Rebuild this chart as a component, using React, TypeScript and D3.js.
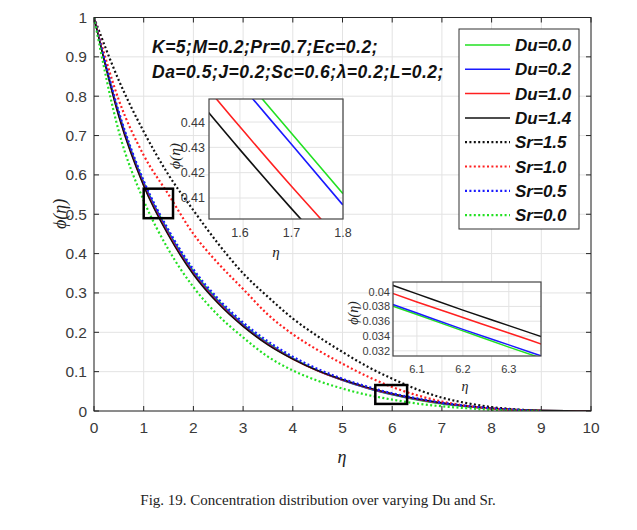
import React from "react";
import * as d3 from "d3";

// ---- data ----
const etaDotted = [0, 0.5, 1, 1.5, 2, 2.5, 3, 3.5, 4, 4.5, 5, 5.5, 6, 6.5, 7, 7.5, 8, 8.5, 9];
const etaSolid = [0, 0.5, 1, 1.5, 2, 2.5, 3, 3.5, 4, 4.5, 5, 5.5, 6, 6.5, 7, 7.5, 8, 8.5, 9, 9.5, 10];

const du00 = [1, 0.757, 0.582, 0.456, 0.356, 0.281, 0.221, 0.173, 0.134, 0.103, 0.078, 0.058, 0.041, 0.028, 0.018, 0.011, 0.006, 0.003, 0.001, 0.0005, 0];
const du02 = [1, 0.755, 0.579, 0.453, 0.353, 0.278, 0.219, 0.171, 0.133, 0.102, 0.078, 0.058, 0.042, 0.029, 0.019, 0.012, 0.006, 0.003, 0.001, 0.0005, 0];
const du10 = [1, 0.75, 0.574, 0.448, 0.349, 0.275, 0.216, 0.169, 0.132, 0.102, 0.079, 0.059, 0.043, 0.03, 0.02, 0.012, 0.007, 0.003, 0.0015, 0.0006, 0];
const du14 = [1, 0.748, 0.572, 0.446, 0.347, 0.273, 0.215, 0.168, 0.132, 0.103, 0.08, 0.06, 0.044, 0.031, 0.021, 0.013, 0.007, 0.0035, 0.0015, 0.0006, 0];

const sr15 = [1, 0.84, 0.71, 0.6, 0.51, 0.425, 0.35, 0.29, 0.235, 0.19, 0.15, 0.113, 0.082, 0.055, 0.034, 0.02, 0.01, 0.004, 0];
const sr10 = [1, 0.79, 0.65, 0.55, 0.45, 0.375, 0.31, 0.245, 0.195, 0.155, 0.12, 0.088, 0.061, 0.04, 0.024, 0.013, 0.006, 0.002, 0];
const sr05 = [1, 0.76, 0.585, 0.46, 0.36, 0.285, 0.225, 0.177, 0.138, 0.107, 0.082, 0.062, 0.045, 0.032, 0.021, 0.013, 0.007, 0.003, 0];
const sr00 = [1, 0.71, 0.535, 0.41, 0.315, 0.243, 0.187, 0.138, 0.103, 0.077, 0.057, 0.041, 0.029, 0.019, 0.012, 0.007, 0.003, 0.001, 0];

// inset 1 (eta 1.54 - 1.8)
const in1Eta = [1.5, 1.6, 1.7, 1.8];
const in1Du00 = [0.4837, 0.4595, 0.4356, 0.4117];
const in1Du02 = [0.4794, 0.4551, 0.4312, 0.4072];
const in1Du10 = [0.4624, 0.4381, 0.4146, 0.3921];
const in1Du14 = [0.4533, 0.4291, 0.4058, 0.3835];

// inset 2 (eta 6.05 - 6.37)
const in2Eta = [6.0, 6.1, 6.2, 6.3, 6.4];
const in2Du00 = [0.0391, 0.0369, 0.0347, 0.0325, 0.0304];
const in2Du02 = [0.0393, 0.0371, 0.0349, 0.0328, 0.0307];
const in2Du10 = [0.0408, 0.0386, 0.0365, 0.0344, 0.0323];
const in2Du14 = [0.0419, 0.0397, 0.0375, 0.0354, 0.0333];

const xTicks = [0, 1, 2, 3, 4, 5, 6, 7, 8, 9, 10];
const yTicks = [0, 0.1, 0.2, 0.3, 0.4, 0.5, 0.6, 0.7, 0.8, 0.9, 1];
const in1XTicks = [1.6, 1.7, 1.8];
const in1YTicks = [0.41, 0.42, 0.43, 0.44];
const in2XTicks = [6.1, 6.2, 6.3];
const in2YTicks = [0.032, 0.034, 0.036, 0.038, 0.04];

const legendLabels = ["Du=0.0", "Du=0.2", "Du=1.0", "Du=1.4", "Sr=1.5", "Sr=1.0", "Sr=0.5", "Sr=0.0"];
const paramLines = ["K=5;M=0.2;Pr=0.7;Ec=0.2;", "Da=0.5;J=0.2;Sc=0.6;\u03bb=0.2;L=0.2;"];
const caption = "Fig. 19. Concentration distribution over varying Du and Sr.";

const GREEN = "#22e022";
const BLUE = "#1a1aff";
const RED = "#ff2020";
const BLACK = "#111111";
const colorsDu = [GREEN, BLUE, RED, BLACK];
const colorsSr = [BLACK, RED, BLUE, GREEN];

const SANS = "'Liberation Sans', Arial, Helvetica, sans-serif";
const SERIF = "'Liberation Serif', 'Times New Roman', serif";

export default function App() {
  const x = d3.scaleLinear().domain([0, 10]).range([94, 591]);
  const y = d3.scaleLinear().domain([0, 1]).range([411, 17.5]);

  const mk = (xs: number[], ys: number[], sx: any, sy: any) =>
    d3.line<number>().x((_, i) => sx(xs[i])).y((d) => sy(d)).curve(d3.curveMonotoneX)(ys) || "";

  const solidSets = [du00, du02, du10, du14];
  const dotSets = [sr15, sr10, sr05, sr00];

  // inset scales
  const i1x = d3.scaleLinear().domain([1.54, 1.8]).range([209, 343]);
  const i1y = d3.scaleLinear().domain([0.4017, 0.4491]).range([219, 99]);
  const i2x = d3.scaleLinear().domain([6.048, 6.37]).range([393, 541]);
  const i2y = d3.scaleLinear().domain([0.0313, 0.0413]).range([356, 282]);

  const tickColor = "#262626";
  const labelColor = "#3a3a3a";
  const gridColor = "#e3e3e3";

  const legendX = 459, legendY = 29, legendW = 120, legendH = 200;
  const rowY = (i: number) => 45 + i * 24.3;

  return (
    <svg width={637} height={530} style={{ position: "absolute", left: 0, top: 0, background: "#fff" }}>
      <defs>
        <clipPath id="mainClip"><rect x={94} y={17.5} width={497} height={393.5} /></clipPath>
        <clipPath id="in1Clip"><rect x={209} y={99} width={134} height={120} /></clipPath>
        <clipPath id="in2Clip"><rect x={393} y={282} width={148} height={74} /></clipPath>
      </defs>
      <rect x={0} y={0} width={637} height={530} fill="#fff" />

      {/* grid */}
      {xTicks.map((t) => (
        <line key={"gx" + t} x1={x(t)} x2={x(t)} y1={17.5} y2={411} stroke={gridColor} strokeWidth={1} />
      ))}
      {yTicks.map((t) => (
        <line key={"gy" + t} x1={94} x2={591} y1={y(t)} y2={y(t)} stroke={gridColor} strokeWidth={1} />
      ))}

      {/* curves */}
      <g clipPath="url(#mainClip)">
        {solidSets.map((s, i) => (
          <path key={"s" + i} d={mk(etaSolid, s, x, y)} fill="none" stroke={colorsDu[i]} strokeWidth={1.5} />
        ))}
        {dotSets.map((s, i) => (
          <path key={"d" + i} d={mk(etaDotted, s, x, y)} fill="none" stroke={colorsSr[i]} strokeWidth={2.2} strokeDasharray="2 2.4" />
        ))}
      </g>

      {/* box axes */}
      <rect x={94} y={17.5} width={497} height={393.5} fill="none" stroke={tickColor} strokeWidth={1} />
      {xTicks.map((t) => (
        <g key={"tx" + t}>
          <line x1={x(t)} x2={x(t)} y1={411} y2={406} stroke={tickColor} />
          <line x1={x(t)} x2={x(t)} y1={17.5} y2={22.5} stroke={tickColor} />
          <text x={x(t)} y={433} textAnchor="middle" fontFamily={SANS} fontSize={15.5} fill={labelColor}>{t}</text>
        </g>
      ))}
      {yTicks.map((t) => (
        <g key={"ty" + t}>
          <line x1={94} x2={99} y1={y(t)} y2={y(t)} stroke={tickColor} />
          <line x1={591} x2={586} y1={y(t)} y2={y(t)} stroke={tickColor} />
          <text x={87} y={y(t) + 5.5} textAnchor="end" fontFamily={SANS} fontSize={15.5} fill={labelColor}>{d3.format("~g")(t)}</text>
        </g>
      ))}
      <text x={342} y={463} textAnchor="middle" fontFamily={SERIF} fontStyle="italic" fontSize={18} fill="#222">η</text>
      <text transform="translate(66,214) rotate(-90)" textAnchor="middle" fontFamily={SERIF} fontStyle="italic" fontSize={18} fill="#222">ϕ(η)</text>

      {/* zoom boxes */}
      <rect x={x(1.0)} y={y(0.565)} width={x(1.59) - x(1.0)} height={y(0.49) - y(0.565)} fill="none" stroke="#000" strokeWidth={2.5} />
      <rect x={x(5.66)} y={y(0.066)} width={x(6.3) - x(5.66)} height={y(0.018) - y(0.066)} fill="none" stroke="#000" strokeWidth={2.5} />

      {/* parameters text */}
      {paramLines.map((p, i) => (
        <text key={"p" + i} x={152} y={53 + i * 25} fontFamily={SANS} fontWeight="bold" fontStyle="italic" fontSize={17.5} letterSpacing={0.5} fill="#111">{p}</text>
      ))}

      {/* inset 1 */}
      <rect x={209} y={99} width={134} height={120} fill="#fff" />
      {in1XTicks.map((t) => (
        <line key={"i1gx" + t} x1={i1x(t)} x2={i1x(t)} y1={99} y2={219} stroke={gridColor} />
      ))}
      {in1YTicks.map((t) => (
        <line key={"i1gy" + t} x1={209} x2={343} y1={i1y(t)} y2={i1y(t)} stroke={gridColor} />
      ))}
      <g clipPath="url(#in1Clip)">
        {[in1Du00, in1Du02, in1Du10, in1Du14].map((s, i) => (
          <path key={"i1" + i} d={mk(in1Eta, s, i1x, i1y)} fill="none" stroke={colorsDu[i]} strokeWidth={1.6} />
        ))}
      </g>
      <rect x={209} y={99} width={134} height={120} fill="none" stroke="#444" strokeWidth={1.2} />
      {in1XTicks.map((t) => (
        <text key={"i1tx" + t} x={i1x(t)} y={237} textAnchor="middle" fontFamily={SANS} fontSize={12.5} fill={labelColor}>{t}</text>
      ))}
      {in1YTicks.map((t) => (
        <text key={"i1ty" + t} x={205} y={i1y(t) + 4.5} textAnchor="end" fontFamily={SANS} fontSize={12.5} fill={labelColor}>{t}</text>
      ))}
      <text x={276} y={257} textAnchor="middle" fontFamily={SERIF} fontStyle="italic" fontSize={15} fill="#222">η</text>
      <text transform="translate(180,156) rotate(-90)" textAnchor="middle" fontFamily={SERIF} fontStyle="italic" fontSize={15.5} fill="#222">ϕ(η)</text>

      {/* inset 2 */}
      <rect x={393} y={282} width={148} height={74} fill="#fff" />
      {in2XTicks.map((t) => (
        <line key={"i2gx" + t} x1={i2x(t)} x2={i2x(t)} y1={282} y2={356} stroke={gridColor} />
      ))}
      {in2YTicks.map((t) => (
        <line key={"i2gy" + t} x1={393} x2={541} y1={i2y(t)} y2={i2y(t)} stroke={gridColor} />
      ))}
      <g clipPath="url(#in2Clip)">
        {[in2Du00, in2Du02, in2Du10, in2Du14].map((s, i) => (
          <path key={"i2" + i} d={mk(in2Eta, s, i2x, i2y)} fill="none" stroke={colorsDu[i]} strokeWidth={1.5} />
        ))}
      </g>
      <rect x={393} y={282} width={148} height={74} fill="none" stroke="#444" strokeWidth={1.2} />
      {in2XTicks.map((t) => (
        <text key={"i2tx" + t} x={i2x(t)} y={373} textAnchor="middle" fontFamily={SANS} fontSize={11} fill={labelColor}>{t}</text>
      ))}
      {in2YTicks.map((t) => (
        <text key={"i2ty" + t} x={390} y={i2y(t) + 4} textAnchor="end" fontFamily={SANS} fontSize={11} fill={labelColor}>{t}</text>
      ))}
      <text x={465} y={391} textAnchor="middle" fontFamily={SERIF} fontStyle="italic" fontSize={14} fill="#222">η</text>
      <text transform="translate(358,313) rotate(-90)" textAnchor="middle" fontFamily={SERIF} fontStyle="italic" fontSize={14} fill="#222">ϕ(η)</text>

      {/* legend */}
      <rect x={legendX} y={legendY} width={legendW} height={legendH} fill="#fff" stroke="#333" strokeWidth={1} />
      {legendLabels.map((lab, i) => {
        const isDot = i >= 4;
        const col = isDot ? colorsSr[i - 4] : colorsDu[i];
        return (
          <g key={"lg" + i}>
            <line x1={465} x2={510} y1={rowY(i)} y2={rowY(i)} stroke={col} strokeWidth={isDot ? 2.2 : 1.5} strokeDasharray={isDot ? "2 2.4" : undefined} />
            <text x={515} y={rowY(i) + 6} fontFamily={SANS} fontWeight="bold" fontStyle="italic" fontSize={17} fill="#111">{lab}</text>
          </g>
        );
      })}

      {/* caption */}
      <text x={318} y={505} textAnchor="middle" fontFamily={SERIF} fontSize={15} fill="#222">{caption}</text>
    </svg>
  );
}
